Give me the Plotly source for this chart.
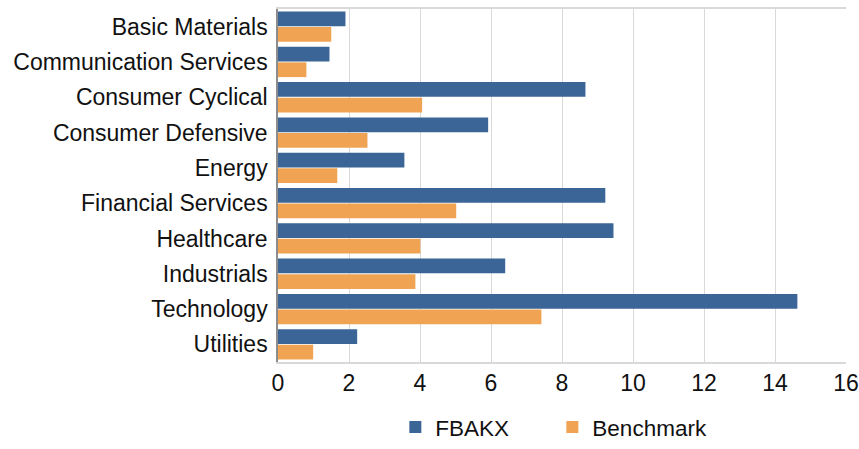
import plotly.graph_objects as go

categories = ["Basic Materials", "Communication Services", "Consumer Cyclical",
              "Consumer Defensive", "Energy", "Financial Services", "Healthcare",
              "Industrials", "Technology", "Utilities"]
fbakx = [1.90, 1.45, 8.66, 5.92, 3.56, 9.22, 9.45, 6.40, 14.63, 2.23]
benchmark = [1.50, 0.80, 4.06, 2.52, 1.67, 5.02, 4.01, 3.87, 7.42, 0.99]
x_ticks = [0, 2, 4, 6, 8, 10, 12, 14, 16]

FONT = "Liberation Sans, Arial, sans-serif"

fig = go.Figure()
fig.add_trace(go.Bar(name="FBAKX", y=categories, x=fbakx, orientation="h",
                     marker=dict(color="#3a6596", line=dict(width=0))))
fig.add_trace(go.Bar(name="Benchmark", y=categories, x=benchmark, orientation="h",
                     marker=dict(color="#f0a453", line=dict(width=0))))

fig.update_layout(
    width=859, height=449,
    barmode="group", bargap=0.12, bargroupgap=0.05,
    plot_bgcolor="white", paper_bgcolor="white",
    margin=dict(l=278, r=13, t=9, b=87, autoexpand=False),
    font=dict(family=FONT, size=23, color="#111111"),
    legend=dict(orientation="h", x=0.483, xanchor="center", y=-0.246, yanchor="bottom",
                font=dict(size=22.5), entrywidth=112, traceorder="normal"),
    showlegend=True,
)
fig.update_xaxes(range=[0, 16], tickvals=x_ticks, showgrid=True, gridcolor="#d9d9d9",
                 gridwidth=1, showline=True, linecolor="#d9d9d9", linewidth=1.5,
                 mirror=True, zeroline=False, ticks="", tickfont=dict(size=23),
                 automargin=False)
fig.update_yaxes(categoryorder="array", categoryarray=categories, autorange="reversed",
                 showgrid=False, showline=True, linecolor="#8c8c8c", linewidth=1.5,
                 ticks="", ticklabelstandoff=4, tickfont=dict(size=23),
                 automargin=False)

fig.write_html("out.html", config={"displayModeBar": False},
               post_script="document.body.style.margin='0px';"
               "document.body.style.padding='0px';")
